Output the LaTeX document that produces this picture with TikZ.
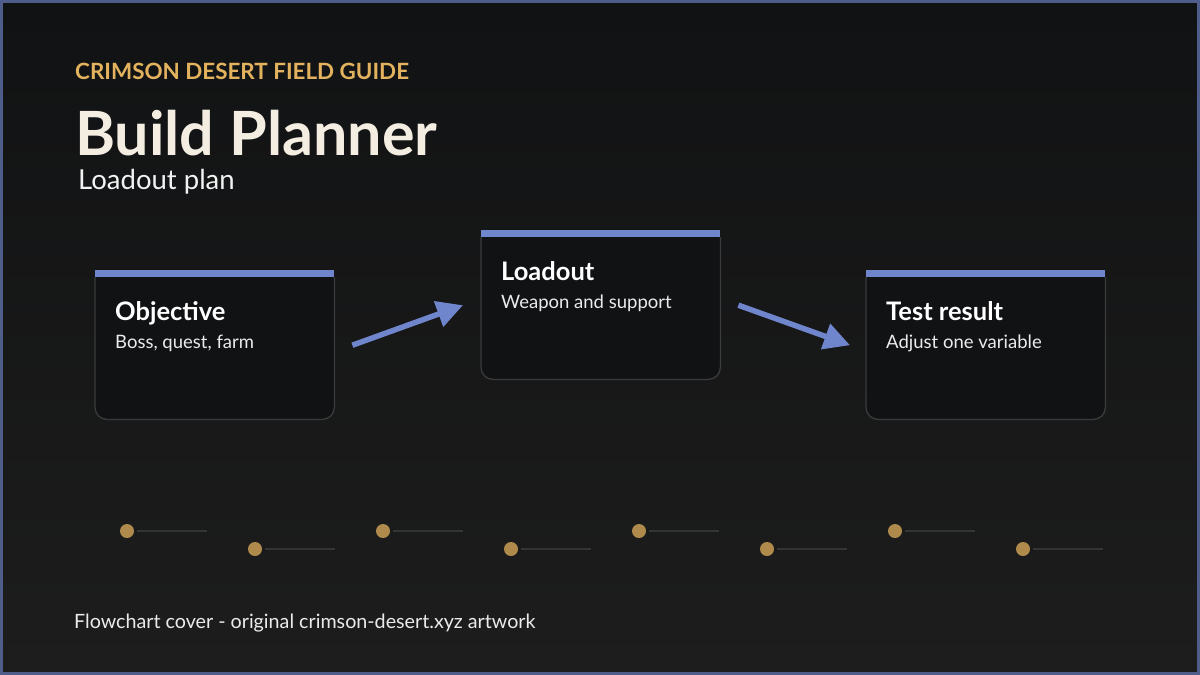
\documentclass[tikz,border=0pt]{standalone}
\usepackage{fontspec}
\setmainfont{Lato}
\usepackage{tikz}
\usetikzlibrary{arrows.meta,positioning}
\definecolor{pagebg}{HTML}{1D1D1D}
\definecolor{pagebgdark}{HTML}{111213}
\definecolor{framec}{HTML}{4F5D8A}
\definecolor{cardfill}{HTML}{111214}
\definecolor{cardedge}{HTML}{3A3B3D}
\definecolor{accent}{HTML}{7086CC}
\definecolor{gold}{HTML}{E3B25E}
\definecolor{dotgold}{HTML}{B08A4C}
\definecolor{cream}{HTML}{F4EEE2}
\definecolor{trackc}{HTML}{333333}

\begin{document}
\begin{tikzpicture}[x=1pt, y=-1pt,
  card/.style={minimum width=239pt, minimum height=142pt, inner sep=0pt, anchor=north west},
  cardline/.style={draw=cardedge, fill=cardfill, line width=1.3pt, rounded corners=12pt},
  bar/.style={fill=accent},
  cardtitle/.style={anchor=base west, inner sep=0pt, text=white, font=\fontsize{25.5}{30}\selectfont\bfseries},
  cardsub/.style={anchor=base west, inner sep=0pt, text=white!92!black, font=\fontsize{18.5}{22}\selectfont},
  flow/.style={draw=accent, line width=5.5pt, -{Triangle[length=26pt, width=26pt]}},
  stop/.style={circle, fill=dotgold, minimum size=14pt, inner sep=0pt},
  track/.style={draw=trackc, line width=2pt}]
\useasboundingbox (0,0) rectangle (1200,675);
\shade[top color=pagebgdark, bottom color=pagebg] (0,0) rectangle (1200,675);
\draw[framec, line width=3pt] (1.5,1.5) rectangle (1198.5,673.5);

% header
\node[anchor=base west, inner sep=0pt, text=gold, font=\fontsize{22.4}{26}\selectfont\bfseries] (kicker) at (75,79) {CRIMSON DESERT FIELD GUIDE};
\node[anchor=base west, inner sep=0pt, text=cream, font=\fontsize{61}{70}\selectfont\bfseries] (title) at (75,155) {Build Planner};
\node[anchor=base west, inner sep=0pt, text=white!95!black, font=\fontsize{27.5}{32}\selectfont] (subtitle) at (78,189) {Loadout plan};

% cards
\node[card] (obj) at (95,277) {};
\node[card] (load) at (481,237) {};
\node[card] (test) at (866,277) {};
\foreach \c/\t/\s in {obj/Objective/{Boss, quest, farm}, load/Loadout/{Weapon and support}, test/Test result/{Adjust one variable}} {
  \filldraw[cardline] (\c.north west) -- (\c.south west) -- (\c.south east) -- (\c.north east);
  \fill[bar] (\c.north west) rectangle ([yshift=7pt]\c.north east);
  \node[cardtitle] (\c-t) at ([shift={(20pt,-43pt)}]\c.north west) {\t};
  \node[cardsub] (\c-s) at ([shift={(20pt,-71pt)}]\c.north west) {\s};
}
\draw[flow] ([shift={(18pt,3pt)}]obj.east) -- ([shift={(-18pt,3pt)}]load.west);
\draw[flow] ([shift={(18pt,3pt)}]load.east) -- ([shift={(-16pt,3pt)}]test.west);

% progress dots
\foreach \i in {0,...,7} {
  \pgfmathsetmacro{\yy}{isodd(\i) ? 549 : 531}
  \coordinate (end\i) at (207+128*\i,\yy);
  \node[stop] (dot\i) at (127+128*\i,\yy) {};
  \draw[track] (dot\i.east) ++(3pt,0) -- (end\i);
}

\node[anchor=base west, inner sep=0pt, text=white!92!black, font=\fontsize{19.7}{24}\selectfont] (credit) at (74,628) {Flowchart cover - original crimson-desert.xyz artwork};
\end{tikzpicture}
\end{document}
